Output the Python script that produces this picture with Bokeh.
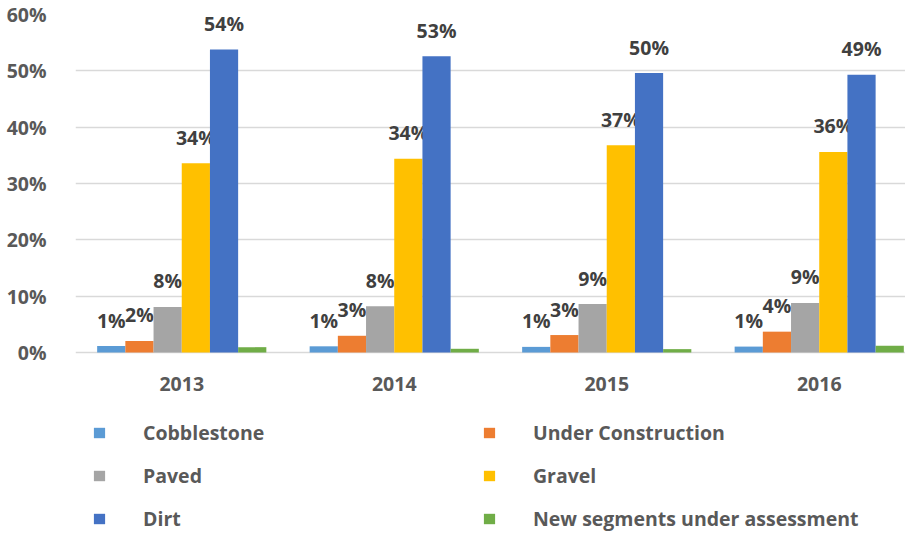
from bokeh.plotting import figure
from bokeh.models import Range1d, FixedTicker, Legend, LegendItem, ColumnDataSource
from bokeh.core.properties import value
from bokeh.embed import file_html
from bokeh.resources import INLINE

years = ["2013", "2014", "2015", "2016"]
series = ["Cobblestone", "Under Construction", "Paved", "Gravel", "Dirt",
          "New segments under assessment"]
cobblestone = [1.14, 1.1, 1.0, 1.05]
under_construction = [2.06, 2.97, 3.1, 3.7]
paved = [8.1, 8.2, 8.6, 8.8]
gravel = [33.6, 34.4, 36.8, 35.6]
dirt = [53.8, 52.6, 49.6, 49.3]
new_segments = [0.95, 0.66, 0.6, 1.2]
colors = ["#5B9BD5", "#ED7D31", "#A5A5A5", "#FFC000", "#4472C4", "#70AD47"]
labeled = [True, True, True, True, True, False]
y_ticks = [0, 10, 20, 30, 40, 50, 60]

all_values = [cobblestone, under_construction, paved, gravel, dirt, new_segments]

FONT = "Open Sans"
FS = "19.5px"

# frame spans down to the figure bottom; the lower part hosts year labels + legend
p = figure(width=905, height=532, output_backend="svg", toolbar_location=None,
           x_range=Range1d(-0.5, 3.406), y_range=Range1d(-31.95, 60),
           min_border_left=75, min_border_right=0, min_border_top=14,
           min_border_bottom=0)
p.outline_line_color = None
p.background_fill_color = "white"
p.border_fill_color = "white"
p.xaxis.visible = False

bar_w = 0.1327
xs = list(range(len(years)))
renderers = []
for i, (name, vals, col) in enumerate(zip(series, all_values, colors)):
    off = (i - 2.5) * bar_w
    src = ColumnDataSource(dict(
        x=[x + off for x in xs], top=vals,
        lab=[f"{round(v)}%" for v in vals]))
    r = p.vbar(x="x", top="top", width=bar_w, source=src, fill_color=col,
               line_color=None)
    renderers.append(r)
    if labeled[i]:
        p.text(x="x", y="top", text="lab", source=src, text_align="center",
               text_baseline="alphabetic", y_offset=-26,
               text_font=value(FONT), text_font_style="bold",
               text_font_size=FS, text_color="#404040")

# category (year) labels under the baseline
ysrc = ColumnDataSource(dict(x=xs, y=[0] * len(xs), t=years))
p.text(x="x", y="y", text="t", source=ysrc, text_align="center",
       text_baseline="alphabetic", y_offset=31,
       text_font=value(FONT), text_font_style="bold",
       text_font_size=FS, text_color="#595959")

p.yaxis.ticker = FixedTicker(ticks=y_ticks)
p.yaxis.major_label_overrides = {t: f"{t}%" for t in y_ticks}
p.yaxis.axis_line_color = None
p.yaxis.major_tick_line_color = None
p.yaxis.minor_tick_line_color = None
p.yaxis.major_label_standoff = 23
p.yaxis.major_label_text_font = FONT
p.yaxis.major_label_text_font_style = "bold"
p.yaxis.major_label_text_font_size = FS
p.yaxis.major_label_text_color = "#595959"

p.xgrid.grid_line_color = None
p.ygrid.grid_line_color = "#D9D9D9"
p.ygrid.grid_line_width = 1.5


def make_legend(idx, loc):
    items = [LegendItem(label=series[i], renderers=[renderers[i]]) for i in idx]
    return Legend(items=items, location=loc, orientation="vertical",
                  padding=0, margin=0, spacing=16, label_height=27,
                  glyph_height=13, glyph_width=14, label_standoff=37,
                  border_line_color=None, background_fill_alpha=0,
                  label_text_font=FONT, label_text_font_style="bold",
                  label_text_font_size=FS, label_text_color="#595959")


p.add_layout(make_legend([0, 2, 4], (17, 0)), "center")
p.add_layout(make_legend([1, 3, 5], (407, 0)), "center")

open("out.html", "w").write(file_html(p, INLINE))
